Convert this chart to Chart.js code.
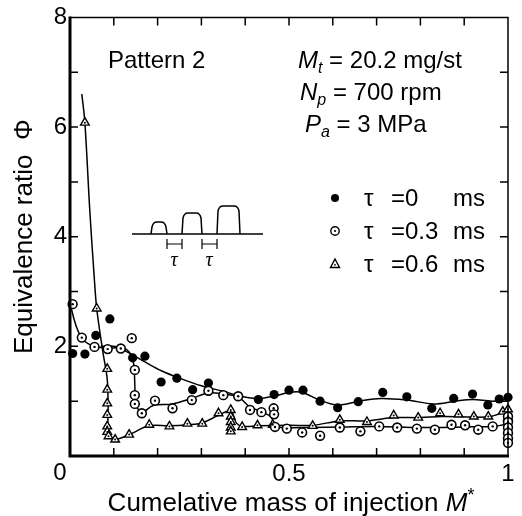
<!DOCTYPE html>
<html>
<head>
<meta charset="utf-8">
<script src="https://cdn.jsdelivr.net/npm/chart.js@4.4.0/dist/chart.umd.min.js"></script>
<style>
html,body{margin:0;padding:0;background:#fff;}
</style>
</head>
<body>
<canvas id="chart" width="522" height="516"></canvas>
<script>
// measured points, tau = 0 ms (filled circles)
const tau0X = [0.006,0.034,0.059,0.091,0.143,0.171,0.208,0.244,0.28,0.316,0.43,0.466,0.5,0.532,0.571,0.611,0.658,0.714,0.769,0.826,0.876,0.919,0.954,0.98,1.0];
const tau0Y = [1.87,1.86,2.2,2.5,1.79,1.82,1.35,1.42,1.21,1.33,1.03,1.12,1.2,1.2,1.0,0.88,0.99,1.16,1.08,0.87,1.05,1.13,0.93,1.04,1.07];

// tau = 0.3 ms (open circles)
const tau3X = [0.006,0.027,0.056,0.086,0.116,0.141,0.148,0.148,0.148,0.164,0.194,0.234,0.278,0.316,0.35,0.384,0.411,0.437,0.465,0.466,0.468,0.495,0.53,0.571,0.616,0.663,0.706,0.747,0.792,0.833,0.871,0.902,0.932,0.965,1.0,1.0,1.0,1.0,1.0,1.0];
const tau3Y = [2.77,2.16,1.99,1.95,1.96,2.15,1.57,1.11,0.95,0.78,1.01,0.87,1.02,1.19,1.11,1.09,0.84,0.8,0.87,0.76,0.53,0.5,0.43,0.37,0.52,0.45,0.54,0.52,0.5,0.48,0.57,0.56,0.48,0.54,0.72,0.62,0.52,0.42,0.32,0.24];

// tau = 0.6 ms (triangles)
const tau6X = [0.034,0.061,0.085,0.085,0.085,0.085,0.085,0.085,0.088,0.103,0.135,0.181,0.227,0.268,0.302,0.339,0.367,0.367,0.367,0.367,0.367,0.393,0.428,0.463,0.554,0.616,0.678,0.739,0.795,0.845,0.887,0.922,0.955,0.988,1.0,1.0];
const tau6Y = [6.08,2.69,1.59,1.21,0.96,0.75,0.54,0.44,0.36,0.3,0.39,0.57,0.54,0.59,0.59,0.78,0.84,0.72,0.62,0.52,0.45,0.53,0.56,0.57,0.55,0.66,0.62,0.74,0.7,0.78,0.76,0.72,0.72,0.81,0.85,0.7];

// hand-drawn fit curves
const fit0X = [0.07,0.1,0.13,0.17,0.21,0.25,0.3,0.35,0.39,0.43,0.47,0.5,0.53,0.57,0.61,0.66,0.71,0.77,0.83,0.88,0.92,0.965,1.0];
const fit0Y = [2.0,2.0,1.9,1.72,1.55,1.42,1.28,1.18,1.09,1.05,1.1,1.16,1.16,1.02,0.93,1.0,1.05,1.02,0.95,1.0,1.03,1.0,1.04];
const fit3X = [0.0,0.015,0.03,0.056,0.09,0.12,0.135,0.145,0.148,0.15,0.164,0.19,0.234,0.278,0.316,0.352,0.384,0.41,0.44,0.46,0.467,0.49,0.55,0.62,0.7,0.8,0.9,0.97,1.0,1.0];
const fit3Y = [2.78,2.35,2.12,2.0,1.97,1.97,1.9,1.7,1.3,0.95,0.8,0.92,0.95,1.05,1.15,1.13,1.08,0.9,0.8,0.7,0.55,0.52,0.52,0.53,0.54,0.52,0.53,0.54,0.56,0.25];
const fit6X = [0.027,0.034,0.045,0.055,0.061,0.075,0.085,0.087,0.088,0.1,0.135,0.18,0.227,0.27,0.3,0.339,0.367,0.38,0.394,0.43,0.5,0.554,0.616,0.678,0.739,0.8,0.85,0.92,0.96,0.99,1.0];
const fit6Y = [6.6,6.08,4.5,3.3,2.69,1.9,1.4,0.9,0.4,0.3,0.39,0.55,0.55,0.57,0.6,0.74,0.82,0.6,0.54,0.55,0.56,0.56,0.64,0.64,0.7,0.7,0.72,0.71,0.72,0.8,0.84];

const FONT = "'Liberation Sans', Arial, Helvetica, sans-serif";
const pts = (xs, ys) => xs.map((x, i) => ({x: x, y: ys[i]}));

function runs(ctx, x, y, parts){
    for(const p of parts){
        ctx.font = p.f;
        ctx.fillText(p.t, x, y + (p.dy || 0));
        x += ctx.measureText(p.t).width;
    }
    return x;
}

const decor = {
    id: 'decor',
    afterDraw(chart){
        const ctx = chart.ctx;
        const a = chart.chartArea;
        const xs = chart.scales.x, ys = chart.scales.y;
        ctx.save();
        ctx.strokeStyle = '#000';
        ctx.fillStyle = '#000';

        // frame
        ctx.lineWidth = 1.5;
        ctx.beginPath();
        ctx.moveTo(a.left, a.top); ctx.lineTo(a.right, a.top); ctx.lineTo(a.right, a.bottom);
        ctx.stroke();
        ctx.lineWidth = 3;
        ctx.beginPath();
        ctx.moveTo(a.left, a.top - 1); ctx.lineTo(a.left, a.bottom); ctx.lineTo(a.right + 1, a.bottom);
        ctx.stroke();

        // inward ticks
        ctx.lineWidth = 1.5;
        ctx.beginPath();
        for(let i = 1; i < 10; i++){
            const px = xs.getPixelForValue(i/10);
            ctx.moveTo(px, a.bottom); ctx.lineTo(px, a.bottom - 8);
            ctx.moveTo(px, a.top); ctx.lineTo(px, a.top + 8);
        }
        for(let j = 1; j < 8; j++){
            const py = ys.getPixelForValue(j);
            ctx.moveTo(a.left, py); ctx.lineTo(a.left + 8, py);
            ctx.moveTo(a.right, py); ctx.lineTo(a.right - 8, py);
        }
        ctx.stroke();

        // shared origin label
        ctx.font = '24px ' + FONT;
        ctx.textAlign = 'center';
        ctx.textBaseline = 'middle';
        ctx.fillText('0', a.left - 10, a.bottom + 17);

        // x axis title
        ctx.textBaseline = 'alphabetic';
        ctx.textAlign = 'left';
        const titleParts = [
            {t: 'Cumelative mass of injection ', f: '26px ' + FONT},
            {t: 'M', f: 'italic 26px ' + FONT},
            {t: '*', f: '18px ' + FONT, dy: -10}
        ];
        let w = 0;
        for(const p of titleParts){ ctx.font = p.f; w += ctx.measureText(p.t).width; }
        runs(ctx, (a.left + a.right)/2 - w/2 + 2, 511, titleParts);

        // text block
        ctx.font = '24px ' + FONT;
        ctx.fillText('Pattern 2', 108, 68);
        runs(ctx, 298, 68, [
            {t: 'M', f: 'italic 24px ' + FONT},
            {t: 't', f: 'italic 16px ' + FONT, dy: 5},
            {t: ' = 20.2 mg/st', f: '24px ' + FONT}
        ]);
        runs(ctx, 300, 100, [
            {t: 'N', f: 'italic 24px ' + FONT},
            {t: 'p', f: 'italic 16px ' + FONT, dy: 5},
            {t: ' = 700 rpm', f: '24px ' + FONT}
        ]);
        runs(ctx, 305, 132, [
            {t: 'P', f: 'italic 24px ' + FONT},
            {t: 'a', f: 'italic 16px ' + FONT, dy: 5},
            {t: ' = 3 MPa', f: '24px ' + FONT}
        ]);

        // legend
        const rows = [
            {y: 198, v: '=0', mark: 'dot'},
            {y: 231, v: '=0.3', mark: 'circ'},
            {y: 264, v: '=0.6', mark: 'tri'}
        ];
        for(const r of rows){
            ctx.lineWidth = 1.4;
            if(r.mark === 'dot'){
                ctx.beginPath(); ctx.arc(335, r.y, 4, 0, Math.PI*2); ctx.fill();
            } else if(r.mark === 'circ'){
                ctx.beginPath(); ctx.arc(335, r.y, 4.2, 0, Math.PI*2); ctx.stroke();
                ctx.beginPath(); ctx.arc(335, r.y, 1.1, 0, Math.PI*2); ctx.fill();
            } else {
                ctx.beginPath(); ctx.moveTo(335, r.y - 5); ctx.lineTo(339.5, r.y + 3.5); ctx.lineTo(330.5, r.y + 3.5); ctx.closePath(); ctx.stroke();
                ctx.beginPath(); ctx.arc(335, r.y + 0.8, 0.9, 0, Math.PI*2); ctx.fill();
            }
            ctx.font = '24px ' + FONT;
            ctx.fillText('\u03c4', 364, r.y + 8);
            ctx.fillText(r.v, 391, r.y + 8);
            ctx.fillText('ms', 453, r.y + 8);
        }

        // inset: injection pulse pattern
        ctx.lineWidth = 1.5;
        const base = 234;
        ctx.beginPath(); ctx.moveTo(132, base); ctx.lineTo(263, base); ctx.stroke();
        const bumps = [[151, 167, 222], [182, 202, 213], [217, 240, 206]];
        for(const [x0, x1, top] of bumps){
            ctx.beginPath();
            ctx.moveTo(x0, base);
            ctx.lineTo(x0 + 1, top + 5);
            ctx.quadraticCurveTo(x0 + 2, top, x0 + 6, top);
            ctx.lineTo(x1 - 6, top);
            ctx.quadraticCurveTo(x1 - 2, top, x1 - 1, top + 5);
            ctx.lineTo(x1, base);
            ctx.stroke();
        }
        ctx.lineWidth = 1.2;
        for(const [x0, x1] of [[167, 182], [202, 217]]){
            ctx.beginPath();
            ctx.moveTo(x0, 244); ctx.lineTo(x1, 244);
            ctx.moveTo(x0, 239); ctx.lineTo(x0, 249);
            ctx.moveTo(x1, 239); ctx.lineTo(x1, 249);
            ctx.stroke();
        }
        ctx.font = 'italic 20px "Liberation Serif", serif';
        ctx.textAlign = 'center';
        ctx.fillText('\u03c4', 174, 266);
        ctx.fillText('\u03c4', 209, 266);
        ctx.restore();
    }
};

const lineStyle = {showLine: true, pointRadius: 0, borderColor: '#000', borderWidth: 1.5, tension: 0.35, clip: false, order: 3};
const dotStyle = {pointStyle: 'circle', pointRadius: 1.2, backgroundColor: '#000', borderWidth: 0, clip: false, order: 0};

new Chart(document.getElementById('chart'), {
    type: 'scatter',
    data: {
        datasets: [
            Object.assign({label: 'fit0', data: pts(fit0X, fit0Y)}, lineStyle),
            Object.assign({label: 'fit3', data: pts(fit3X, fit3Y)}, lineStyle),
            Object.assign({label: 'fit6', data: pts(fit6X, fit6Y)}, lineStyle),
            {label: '\u03c4 =0 ms', data: pts(tau0X, tau0Y), pointStyle: 'circle', pointRadius: 4.6,
             backgroundColor: '#000', borderColor: '#000', borderWidth: 0, clip: false, order: 2},
            {label: '\u03c4 =0.3 ms', data: pts(tau3X, tau3Y), pointStyle: 'circle', pointRadius: 4.4,
             backgroundColor: '#fff', borderColor: '#000', borderWidth: 1.6, clip: false, order: 1},
            {label: '\u03c4 =0.6 ms', data: pts(tau6X, tau6Y), pointStyle: 'triangle', pointRadius: 5,
             backgroundColor: '#fff', borderColor: '#000', borderWidth: 1.4, clip: false, order: 1},
            Object.assign({label: 'c3', data: pts(tau3X, tau3Y)}, dotStyle),
            Object.assign({label: 'c6', data: pts(tau6X, tau6Y)}, dotStyle, {pointRadius: 1})
        ]
    },
    options: {
        responsive: false,
        animation: false,
        devicePixelRatio: 1,
        layout: {padding: {top: 16, right: 14, left: 0, bottom: 0}},
        plugins: {legend: {display: false}, tooltip: {enabled: false}},
        scales: {
            x: {
                type: 'linear', min: 0, max: 1,
                grid: {display: false, drawTicks: false},
                border: {display: false},
                afterFit: s => { s.height = 60; },
                ticks: {
                    stepSize: 0.1, autoSkip: false, maxRotation: 0, padding: 4,
                    color: '#000', font: {family: FONT, size: 24},
                    callback: v => Math.abs(v - 0.5) < 1e-6 ? '0.5' : (Math.abs(v - 1) < 1e-6 ? '1' : '')
                }
            },
            y: {
                min: 0, max: 8,
                grid: {display: false, drawTicks: false},
                border: {display: false},
                afterFit: s => { s.width = 70; },
                ticks: {
                    stepSize: 2, padding: 3, color: '#000', font: {family: FONT, size: 24},
                    callback: v => v === 0 ? '' : String(v)
                },
                title: {
                    display: true, text: 'Equivalence ratio  \u03a6', color: '#000',
                    font: {family: FONT, size: 26}, padding: {top: 9, bottom: 0}
                }
            }
        }
    },
    plugins: [decor]
});
</script>
</body>
</html>
